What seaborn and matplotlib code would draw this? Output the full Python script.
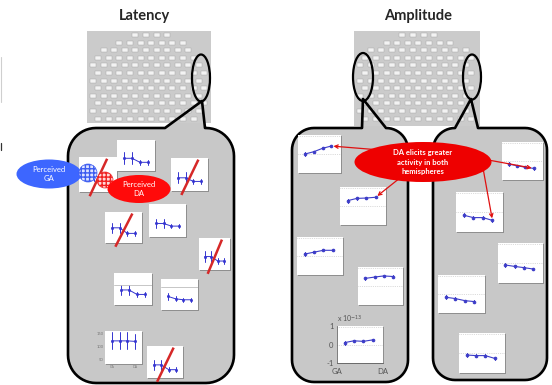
import numpy as np
import pandas as pd
import matplotlib
matplotlib.use("Agg")
import matplotlib.pyplot as plt
import seaborn as sns
from matplotlib.patches import Rectangle, Ellipse, Circle, Polygon

# ---------------- data ----------------
conditions = ["GA", "step 2", "step 3", "DA"]

# latency panels (arbitrary 0-100 scale), mean and half error bar
latency_means = [
    [48, 48, 36, 36],
    [41, 41, 28, 28],
    [40, 40, 29, 29],
    [49, 49, 31, 31],
    [41, 41, 33, 33],
    [42, 42, 28, 28],
    [47, 47, 33, 33],
    [44, 36, 33, 33],
    [120, 120, 120, 118],
    [41, 41, 26, 26],
]
latency_errs = [
    [17, 17, 8, 8],
    [19, 19, 9, 9],
    [17, 17, 8, 8],
    [16, 16, 8, 8],
    [14, 14, 7, 7],
    [16, 16, 8, 8],
    [15, 15, 7, 7],
    [12, 8, 7, 7],
    [33, 33, 33, 30],
    [16, 16, 8, 8],
]
latency_crossed = [True, False, True, True, False, True, False, False, False, True]
latency_ticks = [50, 100, 150]

# amplitude panels (x 10^-13)
amp_left_means = [
    [0.00, 0.12, 0.30, 0.42],
    [0.28, 0.40, 0.42, 0.46],
    [0.10, 0.20, 0.30, 0.30],
    [0.40, 0.47, 0.53, 0.50],
    [0.10, 0.20, 0.17, 0.25],
]
amp_right_means = [
    [-0.16, -0.25, -0.33, -0.39],
    [-0.16, -0.28, -0.28, -0.42],
    [-0.10, -0.17, -0.23, -0.30],
    [-0.17, -0.24, -0.35, -0.40],
    [-0.10, -0.13, -0.13, -0.27],
]
amp_err = [0.10, 0.06, 0.06, 0.06]
amp_ticks = [-1, 0, 1]

titles = ["Latency", "Amplitude"]
perceived_labels = ["Perceived\nGA", "Perceived\nDA"]
note_label = "DA elicits greater\nactivity in both\nhemispheres"

# ---------------- layout (pixels) ----------------
W, H = 552, 385
latency_boxes = [(79, 157, 38, 35), (117, 140, 38, 31), (171, 158, 37, 33),
                 (105, 212, 37, 31), (149, 204, 37, 33), (199, 238, 31, 32),
                 (114, 273, 38, 32), (161, 279, 37, 31), (105, 331, 37, 33),
                 (147, 346, 36, 32)]
amp_left_boxes = [(298, 135, 43, 38), (340, 187, 46, 38), (297, 237, 46, 38),
                  (358, 267, 45, 38), (337, 326, 46, 37)]
amp_right_boxes = [(502, 142, 41, 38), (456, 192, 47, 40), (498, 243, 45, 40),
                   (438, 275, 47, 38), (459, 333, 46, 40)]

sns.set_theme(style="white")
plt.rcParams["font.family"] = ["Lato", "DejaVu Sans"]

fig = plt.figure(figsize=(W / 100, H / 100), dpi=100)
fig.patch.set_facecolor("white")
bg = fig.add_axes([0, 0, 1, 1])
bg.set_xlim(0, W)
bg.set_ylim(H, 0)
bg.axis("off")

GREY = "#c8c8c8"
BLUE = "#3434d0"


def callout_pts(x0, y0, x1, y1, r, bl, apex, br):
    pts = [(x0 + r, y0), (bl, y0), apex, (br, y0), (x1 - r, y0)]

    def arc(cx, cy, t0, t1):
        t = np.radians(np.linspace(t0, t1, 14))
        return list(zip(cx + r * np.cos(t), cy + r * np.sin(t)))
    pts += arc(x1 - r, y0 + r, -90, 0)
    pts += arc(x1 - r, y1 - r, 0, 90)
    pts += arc(x0 + r, y1 - r, 90, 180)
    pts += arc(x0 + r, y0 + r, 180, 270)
    return pts


callouts = [
    callout_pts(68, 128, 234, 383, 28, 165, (202, 101), 205),
    callout_pts(292, 128, 408, 382, 22, 362, (363, 99), 386),
    callout_pts(433, 128, 547, 380, 22, 455, (471, 99), 478),
]
for pts in callouts:
    bg.add_patch(Polygon(pts, closed=True, fc=GREY, ec="none", zorder=1))

# head maps with electrode thumbnails (decorative layout)
rect_marker = [(-1, -0.62), (1, -0.62), (1, 0.62), (-1, 0.62), (-1, -0.62)]
for (hx, hy, hw, hh) in [(87, 31, 124, 92), (354, 31, 126, 95)]:
    bg.add_patch(Rectangle((hx, hy), hw, hh, fc="#cbcbcb", ec="none", zorder=2))
    cx, cy = hx + hw / 2, hy + hh * 0.6
    ex, ey = [], []
    for i, yy in enumerate(np.arange(hy + 4, hy + hh - 3, 7.6)):
        off = 5.3 if i % 2 else 0
        for xx in np.arange(hx + 6 + off, hx + hw - 4, 10.6):
            if ((xx - cx) / (hw * 0.52)) ** 2 + ((yy - cy) / (hh * 0.6)) ** 2 <= 1:
                ex.append(xx)
                ey.append(yy)
    sns.scatterplot(x=ex, y=ey, ax=bg, marker=rect_marker, s=20, color="#f3f3f3",
                    edgecolor="#a0a0a0", linewidth=0.3, legend=False, zorder=3)

for pts in callouts:
    bg.add_patch(Polygon(pts, closed=True, fill=False, ec="black", lw=1.9,
                         joinstyle="round", zorder=4))

for (cx, cy, ew, eh) in [(201, 78, 18, 47), (363, 77, 20, 48), (472, 77, 18, 45)]:
    bg.add_patch(Ellipse((cx, cy), ew, eh, fill=False, ec="black", lw=1.6, zorder=5))

bg.text(145, 16, titles[0], ha="center", va="center", fontsize=10.5, fontweight="bold")
bg.text(418, 16, titles[1], ha="center", va="center", fontsize=10.5, fontweight="bold")

# small artefacts at the left edge
bg.plot([0.6, 0.6], [57, 102], color="#cfcfcf", lw=0.8)
bg.plot([0.6, 0.6], [143, 150], color="#333333", lw=0.9)


def px_axes(box):
    x, y, w, h = box
    bg.add_patch(Rectangle((x + 1.3, y + 1.3), w, h, fc="#8f8f8f", ec="none", zorder=6))
    ax = fig.add_axes([x / W, 1 - (y + h) / H, w / W, h / H])
    ax.set_facecolor("white")
    for s in ax.spines.values():
        s.set_visible(False)
    ax.set_xticks([])
    ax.set_yticks([])
    return ax


def draw_series(ax, means, errs, color, ms, lw):
    vals = []
    conds = []
    for c, m, e in zip(conditions, means, errs):
        vals += [m - e, m + e]
        conds += [c, c]
    df = pd.DataFrame({"cond": conds, "val": vals})
    sns.pointplot(data=df, x="cond", y="val", order=conditions, estimator="mean",
                  errorbar=("pi", 100), color=color, markersize=ms, linewidth=lw,
                  err_kws={"linewidth": lw}, ax=ax)
    ax.set_xlabel("")
    ax.set_ylabel("")


lat_axes = []
for i, box in enumerate(latency_boxes):
    ax = px_axes(box)
    draw_series(ax, latency_means[i], latency_errs[i], BLUE, 1.6, 0.7)
    ax.set_xlim(-0.9, 3.9)
    if i == 8:
        ax.set_ylim(31, 158)
        ax.set_yticks(latency_ticks)
        ax.set_yticklabels([str(t) for t in latency_ticks], fontsize=3, color="#777777")
        ax.set_xticks([0, 3])
        ax.set_xticklabels(["GA", "DA"], fontsize=2.5, color="#777777")
        ax.tick_params(length=0, pad=1)
    else:
        ax.set_ylim(0, 100)
        ax.set_xticks([])
        ax.set_yticks([])
    if i in (6, 7):
        ax.axhline(62 if i == 6 else 73, color="#bdbdbd", lw=0.6)
    lat_axes.append(ax)


def amp_panel(box, means, labelled=False):
    ax = px_axes(box)
    ax.axhline(0, color="#bbbbbb", lw=0.5, ls=":")
    ax.axhline(0.93, color="#bbbbbb", lw=0.5, ls=":")
    draw_series(ax, means, amp_err, "#3c3cc8", 2.0, 0.8)
    ax.set_xlim(-0.8, 4.1)
    ax.set_ylim(-1, 1)
    if labelled:
        ax.set_yticks(amp_ticks)
        ax.set_yticklabels([str(t) for t in amp_ticks], fontsize=5.5, color="#555555")
        ax.set_xticks([-0.8, 4.1])
        ax.set_xticklabels(["GA", "DA"], fontsize=5.5, color="#555555")
        ax.tick_params(axis="y", length=0, pad=2.5)
        ax.tick_params(axis="x", length=0, pad=3.5)
        for side in ("left", "bottom"):
            ax.spines[side].set_visible(True)
            ax.spines[side].set_color("#666666")
            ax.spines[side].set_linewidth(0.6)
        ax.text(0, 1.04, r"x 10$^{-13}$", transform=ax.transAxes, fontsize=5,
                color="#555555", ha="left", va="bottom")
    else:
        ax.set_xticks([])
        ax.set_yticks([])
    return ax


left_axes = [amp_panel(b, m, labelled=(i == 4))
             for i, (b, m) in enumerate(zip(amp_left_boxes, amp_left_means))]
right_axes = [amp_panel(b, m) for b, m in zip(amp_right_boxes, amp_right_means)]

# ---------------- overlay ----------------
ov = fig.add_axes([0, 0, 1, 1])
ov.set_xlim(0, W)
ov.set_ylim(H, 0)
ov.axis("off")
ov.patch.set_alpha(0)

# red slashes across rejected latency panels
for box, crossed in zip(latency_boxes, latency_crossed):
    if crossed:
        x, y, w, h = box
        ov.plot([x + 0.28 * w, x + 0.74 * w], [y + h * 1.12, y + h * 0.05],
                color="#d62828", lw=1.8, solid_capstyle="butt")

# perceived category markers
ov.add_patch(Ellipse((49, 174), 65, 29, fc="#3d66ff", ec="none", zorder=3))
ov.text(49, 174, perceived_labels[0], ha="center", va="center", color="white",
        fontsize=5.5, linespacing=1.2, zorder=4)
ov.add_patch(Circle((88, 173), 9, fc="#dfe4ff", ec="#3d5cf0", hatch="++++", lw=0.5, zorder=3))
ov.add_patch(Circle((105, 180), 8, fc="#ffd8d8", ec="#f02020", hatch="++++", lw=0.5, zorder=3))
ov.add_patch(Ellipse((139, 189), 63, 28, fc="#ff0a0a", ec="none", zorder=3))
ov.text(139, 189, perceived_labels[1], ha="center", va="center", color="white",
        fontsize=5.5, linespacing=1.2, zorder=4)

# arrows from the note to the DA end of four amplitude panels
arrow_targets = [(left_axes[0], amp_left_means[0], (405, 152)),
                 (right_axes[0], amp_right_means[0], (445, 152)),
                 (left_axes[1], amp_left_means[1], (410, 170)),
                 (right_axes[1], amp_right_means[1], (483, 168))]
for ax, means, start in arrow_targets:
    ov.annotate("", xy=(3, means[3]), xycoords=ax.transData,
                xytext=start, textcoords=ov.transData,
                arrowprops=dict(arrowstyle="->", color="#e01010", lw=0.9,
                                shrinkA=0, shrinkB=1.5, mutation_scale=6),
                zorder=2)
ov.add_patch(Ellipse((423, 162), 137, 40, fc="#ee0000", ec="none", zorder=3))
ov.text(423, 162, note_label, ha="center", va="center", color="white",
        fontsize=5.5, fontweight="bold", linespacing=1.35, zorder=4)

fig.savefig("out.png", dpi=100)
